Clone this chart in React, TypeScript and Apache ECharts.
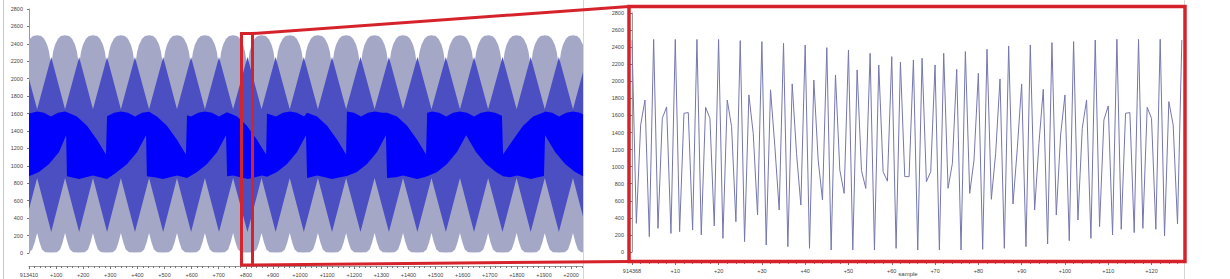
import React, { useEffect, useRef } from "react";
import * as echarts from "echarts";

// ---------- overview panel (left) ----------
const overviewStart = 913410;
const overviewSpan = 2044;
// centers (in samples) of the pale upper/lower arcs
const arcCenters = [30, 133, 236, 339, 443, 546, 649, 753, 858, 962, 1066, 1170, 1275, 1380, 1485, 1590, 1694, 1799, 1903, 2007];
// positions of the dark triangular apexes
const darkApex = [-22, 82, 185, 288, 391, 495, 598, 701, 806, 910, 1014, 1118, 1223, 1328, 1433, 1538, 1642, 1747, 1851, 1955, 2059];
// pale arc profile: [offset from center, value]
const paleTopProfile = [[-52, 1950], [-49, 2200], [-44, 2310], [-37, 2390], [-26, 2460], [-15, 2490], [0, 2500], [15, 2490], [26, 2460], [37, 2390], [44, 2310], [49, 2200], [52, 1950]];
const paleBottomProfile = [[-52, 5], [-30, 10], [-18, 40], [-9, 120], [0, 230], [9, 120], [18, 40], [30, 10], [52, 5]];
// dark envelope levels at arc centers / apexes
const darkTopAtCenter = 1650;
const darkTopAtApex = 2250;
const darkBottomAtCenter = 860;
const darkBottomAtApex = 240;
// bright band envelopes [sample, value]
const brightTop = [
  [0, 1600], [30, 1625], [55, 1610], [81, 1565], [107, 1610], [133, 1625],
  [140, 1615], [177, 1565], [214, 1460], [251, 1300], [284, 1130],
  [288, 1570], [314, 1610], [339, 1625], [365, 1610], [391, 1565], [417, 1610],
  [443, 1620], [472, 1565], [509, 1460], [546, 1300], [579, 1130],
  [583, 1580], [598, 1565], [624, 1610], [649, 1625], [675, 1610], [701, 1565], [727, 1610],
  [731, 1615], [768, 1565], [804, 1460], [841, 1300], [875, 1130],
  [878, 1600], [911, 1565], [937, 1610], [963, 1625], [989, 1610], [1015, 1565],
  [1026, 1610], [1063, 1565], [1100, 1460], [1137, 1300], [1170, 1130],
  [1173, 1625], [1199, 1610], [1225, 1565], [1251, 1610], [1277, 1625], [1303, 1610],
  [1321, 1610], [1358, 1565], [1395, 1460], [1432, 1300], [1465, 1130],
  [1469, 1610], [1487, 1625], [1513, 1610], [1539, 1565], [1565, 1610], [1590, 1625], [1616, 1610], [1642, 1565], [1668, 1610], [1694, 1625], [1720, 1610], [1745, 1575],
  [1749, 1130], [1786, 1300], [1823, 1460], [1860, 1565], [1900, 1615],
  [1904, 1625], [1930, 1610], [1956, 1565], [1982, 1610], [2007, 1625], [2033, 1610], [2044, 1590],
];
const brightBottom = [
  [0, 880], [37, 930], [74, 1020], [111, 1160], [137, 1350],
  [140, 880], [185, 850], [210, 870], [236, 890], [262, 870],
  [288, 850], [325, 930], [362, 1020], [399, 1160], [432, 1350],
  [435, 880], [469, 865], [494, 850], [520, 870], [546, 890], [572, 870],
  [583, 860], [620, 930], [657, 1020], [694, 1160], [727, 1350],
  [731, 880], [753, 890], [779, 870], [808, 850], [834, 870], [860, 890],
  [878, 875], [915, 930], [952, 1020], [989, 1160], [1022, 1350],
  [1026, 860], [1063, 890], [1092, 870], [1118, 850], [1148, 870],
  [1173, 885], [1210, 930], [1247, 1020], [1284, 1160], [1317, 1350],
  [1321, 860], [1354, 870], [1380, 890], [1406, 870], [1432, 850], [1458, 870],
  [1469, 880], [1506, 930], [1542, 1020], [1579, 1160], [1613, 1350],
  [1649, 1160], [1686, 1020], [1723, 930], [1749, 880],
  [1775, 870], [1801, 890], [1827, 870], [1852, 850], [1878, 870], [1900, 885],
  [1904, 1350], [1941, 1160], [1978, 1020], [2015, 930], [2044, 880],
];

// ---------- zoomed panel (right) ----------
const zoomStart = 914368;
const zoomAxisName = "sample";
const zoomValues = [
  2480, 336, 1490, 1780, 180, 2490, 277, 1566, 1700, 218,
  2490, 238, 1625, 1633, 258, 2490, 200, 1695, 1566, 305,
  2490, 160, 1780, 1470, 355, 2476, 121, 1840, 1390, 433,
  2465, 82, 1900, 1234, 492, 2445, 62, 1970, 1156, 550,
  2425, 43, 2015, 1078, 609, 2394, 23, 2074, 961, 687,
  2367, 23, 2133, 955, 745, 2328, 23, 2191, 940, 830,
  2289, 43, 2225, 883, 883, 2250, 23, 2270, 824, 941,
  2191, 23, 2328, 746, 1039, 2140, 23, 2348, 687, 1078,
  2094, 31, 2375, 617, 1156, 2027, 43, 2414, 562, 1215,
  1969, 62, 2426, 492, 1273, 1906, 94, 2453, 434, 1371,
  1840, 133, 2465, 375, 1449, 1781, 160, 2484, 297, 1547,
  1711, 199, 2492, 266, 1625, 1633, 227, 2492, 277, 1695,
  1566, 266, 2492, 187, 1762, 1488, 328, 2484,
];

const PALE = "#a5a7c7";
const DARK = "#4b4fc2";
const BRIGHT = "#0000fc";
const RED = "#d6232b";
const FONT = "'Liberation Sans', Arial, sans-serif";

function withProfile(centers: number[], profile: number[][]) {
  const out: number[][] = [];
  centers.forEach((c) => profile.forEach(([o, v]) => out.push([c + o, v])));
  return out;
}
function zigzag(a: number[], av: number, b: number[], bv: number) {
  return a.map((x) => [x, av]).concat(b.map((x) => [x, bv])).sort((p, q) => p[0] - q[0]);
}

function band(upper: number[][], lower: number[][], color: string, z: number) {
  return {
    type: "custom",
    xAxisIndex: 0,
    yAxisIndex: 0,
    clip: true,
    silent: true,
    z,
    data: [[upper[0][0], upper[0][1]]],
    renderItem: (_p: any, api: any) => {
      const pts = upper.map((p) => api.coord(p)).concat(lower.slice().reverse().map((p) => api.coord(p)));
      return { type: "polygon", shape: { points: pts }, style: { fill: color } };
    },
  };
}

export default function App() {
  const ref = useRef<HTMLDivElement>(null);
  useEffect(() => {
    if (!ref.current) return;
    const chart = echarts.init(ref.current, undefined, { renderer: "svg" });
    const paleTop = withProfile(arcCenters, paleTopProfile);
    const paleBottom = withProfile(arcCenters, paleBottomProfile);
    const darkTop = zigzag(arcCenters, darkTopAtCenter, darkApex, darkTopAtApex);
    const darkBottom = zigzag(arcCenters, darkBottomAtCenter, darkApex, darkBottomAtApex);
    const labelStyle = { fontSize: 5.5, color: "#444", fontFamily: FONT };
    const axisGray = { lineStyle: { color: "#9a9a9a", width: 1 } };
    chart.setOption({
      animation: false,
      grid: [
        { left: 29, top: 9, width: 554, height: 244, outerBoundsMode: "none", containLabel: false },
        { left: 632, top: 13, width: 552, height: 239, outerBoundsMode: "none", containLabel: false },
      ],
      xAxis: [
        {
          type: "value", gridIndex: 0, min: 0, max: overviewSpan, interval: 100, offset: 13,
          axisLine: { onZero: false, ...axisGray },
          axisTick: { length: 3, lineStyle: { color: "#777" } },
          minorTick: { show: true, splitNumber: 5, length: 2, lineStyle: { color: "#777" } },
          splitLine: { show: false },
          axisLabel: { ...labelStyle, margin: 6, formatter: (v: number) => (v % 100 !== 0 ? "" : v === 0 ? String(overviewStart) : "+" + v) },
        },
        {
          type: "value", gridIndex: 1, min: 0, max: 127.5, interval: 10, offset: 10,
          axisLine: { onZero: false, ...axisGray },
          axisTick: { length: 3, lineStyle: { color: "#777" } },
          minorTick: { show: true, splitNumber: 5, length: 2, lineStyle: { color: "#777" } },
          splitLine: { show: false },
          axisLabel: { ...labelStyle, margin: 6, formatter: (v: number) => (v % 10 !== 0 ? "" : v === 0 ? String(zoomStart) : "+" + v) },
        },
      ],
      yAxis: [
        {
          type: "value", gridIndex: 0, min: 0, max: 2800, interval: 200,
          axisLine: { show: true, ...axisGray },
          axisTick: { show: true, length: 2, lineStyle: { color: "#777" } },
          splitLine: { show: false },
          axisLabel: { ...labelStyle, margin: 6, formatter: (v: number) => String(v) },
        },
        {
          type: "value", gridIndex: 1, min: 0, max: 2800, interval: 200,
          axisLine: { show: true, ...axisGray },
          axisTick: { show: true, length: 2, lineStyle: { color: "#777" } },
          splitLine: { show: false },
          axisLabel: { ...labelStyle, margin: 8, formatter: (v: number) => String(v) },
        },
      ],
      series: [
        band(paleTop, paleBottom, PALE, 1),
        band(darkTop, darkBottom, DARK, 2),
        band(brightTop, brightBottom, BRIGHT, 3),
        {
          type: "line",
          xAxisIndex: 1,
          yAxisIndex: 1,
          data: zoomValues.map((v, i) => [i, v]),
          showSymbol: false,
          symbol: "none",
          lineStyle: { color: "#7577ae", width: 1 },
          silent: true,
        },
      ],
      graphic: [
        { type: "line", shape: { x1: 3.5, y1: 0, x2: 3.5, y2: 279 }, style: { stroke: "#c8c8c8", lineWidth: 1 }, z: 10 },
        { type: "line", shape: { x1: 583.5, y1: 0, x2: 583.5, y2: 279 }, style: { stroke: "#d6d6d6", lineWidth: 1 }, z: 10 },
        { type: "line", shape: { x1: 1184.5, y1: 0, x2: 1184.5, y2: 279 }, style: { stroke: "#d6d6d6", lineWidth: 1 }, z: 10 },
        { type: "rect", shape: { x: 241.5, y: 33.5, width: 11, height: 231.5 }, style: { fill: "none", stroke: RED, lineWidth: 3 }, z: 20 },
        { type: "line", shape: { x1: 252.5, y1: 33.5, x2: 629, y2: 6.5 }, style: { stroke: RED, lineWidth: 3 }, z: 20 },
        { type: "line", shape: { x1: 252.5, y1: 265, x2: 629, y2: 261.5 }, style: { stroke: RED, lineWidth: 3 }, z: 20 },
        { type: "rect", shape: { x: 629, y: 6.5, width: 556, height: 255 }, style: { fill: "none", stroke: RED, lineWidth: 3.5 }, z: 20 },
        {
          type: "text", x: 908, y: 271, z: 15,
          style: { text: zoomAxisName, fontSize: 6, fill: "#444", fontFamily: FONT, align: "center", verticalAlign: "top" },
        },
      ],
    });
    return () => chart.dispose();
  }, []);
  return <div ref={ref} style={{ position: "fixed", left: 0, top: 0, width: 1230, height: 279, background: "#fff" }} />;
}
